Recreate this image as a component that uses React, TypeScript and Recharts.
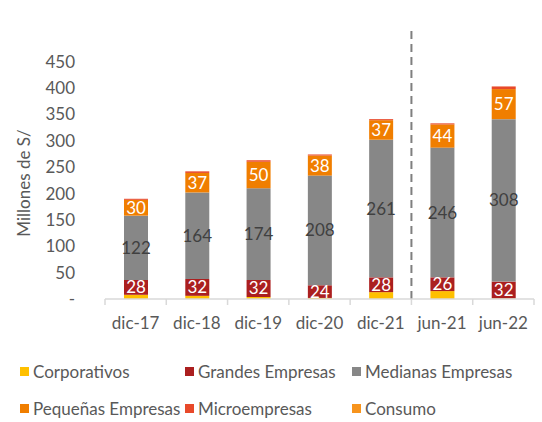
import {
  BarChart,
  Bar,
  XAxis,
  YAxis,
  LabelList,
  ReferenceLine,
} from "recharts";

const categories = ["dic-17", "dic-18", "dic-19", "dic-20", "dic-21", "jun-21", "jun-22"];
const corporativos = [8, 6, 4, 2, 13, 15, 1];
const grandes = [28, 32, 32, 24, 28, 26, 32];
const medianas = [122, 164, 174, 208, 261, 246, 308];
const pequenas = [30, 37, 50, 38, 37, 44, 57];
const micro = [2, 3, 3, 2, 2, 2, 5];
const consumo = [0, 0, 0, 0, 0, 0, 0];
const yTicks = [0, 50, 100, 150, 200, 250, 300, 350, 400, 450];

const FONT = "Lato, 'Open Sans', sans-serif";
const TEXT = "#595959";
const FS = 17;

const series = [
  { key: "corporativos", name: "Corporativos", color: "#FFC000" },
  { key: "grandes", name: "Grandes Empresas", color: "#AB1F1F" },
  { key: "medianas", name: "Medianas Empresas", color: "#878787" },
  { key: "pequenas", name: "Pequeñas Empresas", color: "#F07E00" },
  { key: "micro", name: "Microempresas", color: "#E8492A" },
  { key: "consumo", name: "Consumo", color: "#F7941D" },
];

const data = categories.map((cat, i) => ({
  cat,
  corporativos: corporativos[i],
  grandes: grandes[i],
  medianas: medianas[i],
  pequenas: pequenas[i],
  micro: micro[i],
  consumo: consumo[i],
}));

const XTick = ({ x, y, payload, index, visibleTicksCount }: any) => {
  const off = payload.offset || 0;
  return (
    <g>
      <line x1={x - off} x2={x - off} y1={y - 8} y2={y - 2} stroke="#D9D9D9" strokeWidth={1.5} />
      {index === visibleTicksCount - 1 && (
        <line x1={x + off} x2={x + off} y1={y - 8} y2={y - 2} stroke="#D9D9D9" strokeWidth={1.5} />
      )}
      <text x={x} y={y + 22} textAnchor="middle" fill={TEXT} fontSize={FS} fontFamily={FONT}>
        {payload.value}
      </text>
    </g>
  );
};

const YTitle = ({ viewBox }: any) => (
  <text
    x={viewBox.x + 30}
    y={183}
    transform={`rotate(-90, ${viewBox.x + 30}, 183)`}
    textAnchor="middle"
    fill={TEXT}
    fontSize={FS}
    fontFamily={FONT}
  >
    Millones de S/
  </text>
);

const legendRows = [series.slice(0, 3), series.slice(3, 6)];
const legendCols = [20, 185, 352];

const App = () => (
  <div style={{ position: "absolute", left: 0, top: 0, width: 542, height: 422, background: "#fff" }}>
    <BarChart
      width={542}
      height={422}
      data={data}
      margin={{ top: 30, right: 8, bottom: 93, left: 0 }}
      barSize={24}
    >
      <XAxis
        dataKey="cat"
        height={30}
        axisLine={{ stroke: "#D9D9D9", strokeWidth: 1.5 }}
        tickLine={false}
        tickSize={6}
        tick={<XTick />}
        interval={0}
      />
      <YAxis
        width={105}
        domain={[0, 510]}
        ticks={yTicks}
        axisLine={false}
        tickLine={false}
        tickSize={0}
        tickMargin={30}
        tick={{ fill: TEXT, fontSize: FS, fontFamily: FONT }}
        tickFormatter={(v) => (v === 0 ? "-" : `${v}`)}
        label={<YTitle />}
      />
      {series.map((s) => (
        <Bar
          key={s.key}
          dataKey={s.key}
          name={s.name}
          stackId="a"
          fill={s.color}
          isAnimationActive={false}
        >
          {(s.key === "grandes" || s.key === "medianas" || s.key === "pequenas") && (
            <LabelList
              dataKey={s.key}
              position="center"
              fill={s.key === "medianas" ? "#404040" : "#ffffff"}
              fontSize={FS}
              fontFamily={FONT}
            />
          )}
        </Bar>
      ))}
      <ReferenceLine
        x="jun-21"
        position="start"
        stroke="#7F7F7F"
        strokeWidth={2}
        strokeDasharray="8 5"
      />
    </BarChart>
    {legendRows.map((row, r) =>
      row.map((s, c) => (
        <div
          key={s.key}
          style={{
            position: "absolute",
            left: legendCols[c],
            top: r === 0 ? 361 : 398,
            display: "flex",
            alignItems: "center",
            fontFamily: FONT,
            fontSize: FS,
            color: TEXT,
            whiteSpace: "nowrap",
          }}
        >
          <span style={{ width: 9, height: 9, background: s.color, marginRight: 4, display: "inline-block" }} />
          {s.name}
        </div>
      ))
    )}
  </div>
);

export default App;
